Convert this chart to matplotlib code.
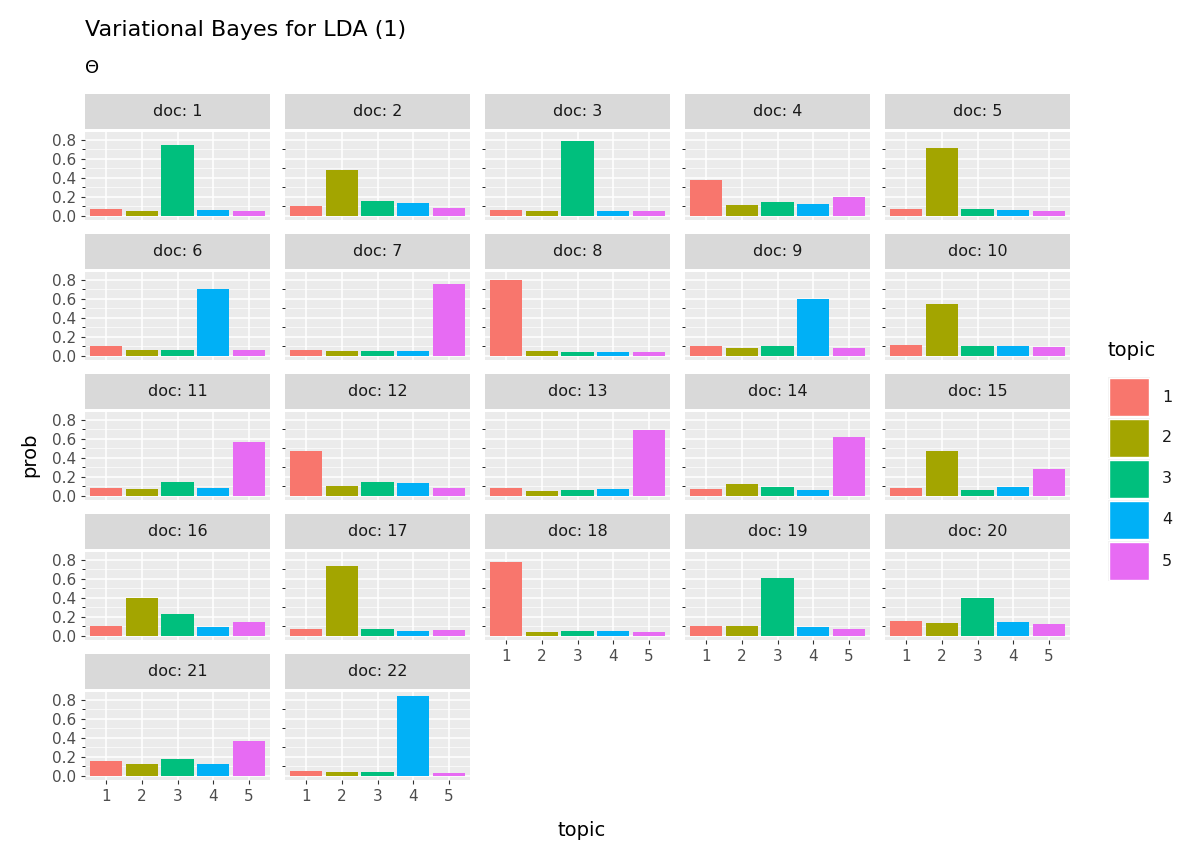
import matplotlib
matplotlib.use("Agg")
import matplotlib.pyplot as plt
from matplotlib.patches import Rectangle

topics = [1, 2, 3, 4, 5]
colors = ["#F8766D", "#A3A500", "#00BF7D", "#00B0F6", "#E76BF3"]
docs = list(range(1, 23))
probs = [
    [0.07, 0.05, 0.75, 0.06, 0.05],
    [0.10, 0.48, 0.16, 0.14, 0.08],
    [0.06, 0.05, 0.79, 0.05, 0.05],
    [0.38, 0.12, 0.15, 0.13, 0.20],
    [0.07, 0.71, 0.07, 0.06, 0.05],
    [0.10, 0.06, 0.06, 0.70, 0.06],
    [0.06, 0.05, 0.05, 0.05, 0.76],
    [0.80, 0.05, 0.04, 0.04, 0.04],
    [0.11, 0.08, 0.11, 0.60, 0.08],
    [0.12, 0.55, 0.10, 0.11, 0.09],
    [0.08, 0.07, 0.15, 0.08, 0.57],
    [0.47, 0.10, 0.15, 0.14, 0.08],
    [0.08, 0.05, 0.06, 0.07, 0.69],
    [0.07, 0.13, 0.09, 0.06, 0.62],
    [0.08, 0.47, 0.06, 0.09, 0.28],
    [0.11, 0.40, 0.23, 0.09, 0.15],
    [0.07, 0.73, 0.07, 0.05, 0.06],
    [0.78, 0.04, 0.05, 0.05, 0.04],
    [0.10, 0.10, 0.61, 0.09, 0.07],
    [0.16, 0.14, 0.40, 0.15, 0.13],
    [0.16, 0.13, 0.18, 0.13, 0.37],
    [0.05, 0.04, 0.04, 0.84, 0.03],
]

W, H = 1200, 857
fig = plt.figure(figsize=(12, 8.57), dpi=100)

def fx(px): return px / W
def fy(py): return 1 - py / H

ymax = max(max(p) for p in probs)
for i, d in enumerate(docs):
    r, c = divmod(i, 5)
    left = 85 + 200 * c
    top = 132 + 140 * r
    ax = fig.add_axes([fx(left), fy(top + 88), fx(185), 88 / H])
    ax.set_facecolor("#EBEBEB")
    ax.bar(topics, probs[i], color=colors, width=0.9, zorder=2)
    ax.set_xlim(0.4, 5.6)
    ax.set_ylim(-0.05 * ymax, ymax * 1.05)
    ax.set_yticks([0, 0.2, 0.4, 0.6, 0.8])
    ax.set_yticks([0.1, 0.3, 0.5, 0.7], minor=True)
    ax.set_xticks(topics)
    ax.grid(True, which="major", color="white", lw=1.1, zorder=0)
    ax.grid(True, which="minor", axis="y", color="white", lw=0.5, zorder=0)
    for s in ax.spines.values():
        s.set_visible(False)
    ax.tick_params(length=3, color="#333333", labelcolor="#4D4D4D", labelsize=11)
    if c == 0:
        ax.set_yticklabels(["0.0", "0.2", "0.4", "0.6", "0.8"])
    else:
        ax.tick_params(axis="y", labelleft=False, length=0)
    bottom = (i + 5 >= len(docs))
    if bottom:
        ax.set_xticklabels([str(t) for t in topics])
    else:
        ax.tick_params(axis="x", labelbottom=False, length=0)
    sax = fig.add_axes([fx(left), fy(top - 3), fx(185), 35 / H])
    sax.set_facecolor("#D9D9D9")
    sax.set_xticks([]); sax.set_yticks([])
    for s in sax.spines.values():
        s.set_visible(False)
    sax.text(0.5, 0.5, f"doc: {d}", ha="center", va="center", fontsize=11.5, color="#1A1A1A")

fig.text(fx(85), fy(30), "Variational Bayes for LDA (1)", fontsize=16, va="center")
fig.text(fx(85), fy(68), "Θ", fontsize=13, va="center")
fig.text(fx(30), fy(455), "prob", fontsize=14, rotation=90, ha="center", va="center")
fig.text(fx(582), fy(830), "topic", fontsize=14, ha="center", va="center")

fig.text(fx(1108), fy(350), "topic", fontsize=14, va="center")
for k, (t, col) in enumerate(zip(topics, colors)):
    yc = 397 + 41 * k
    fig.patches.append(Rectangle((fx(1108), fy(yc + 20)), fx(42), 40 / H,
                                 transform=fig.transFigure, facecolor="#F2F2F2", edgecolor="none"))
    fig.patches.append(Rectangle((fx(1109), fy(yc + 19)), fx(40), 38 / H,
                                 transform=fig.transFigure, facecolor=col, edgecolor="white", lw=1))
    fig.text(fx(1162), fy(yc), str(t), fontsize=11.5, va="center", color="#1A1A1A")

fig.savefig("out.png", dpi=100)
